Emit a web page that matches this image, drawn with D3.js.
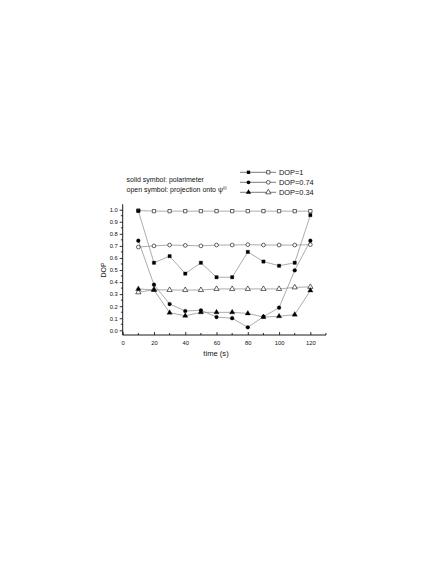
<!DOCTYPE html>
<html><head><meta charset="utf-8">
<script src="https://cdn.jsdelivr.net/npm/d3@7"></script>
<style>body{margin:0;background:#fff}svg{display:block}</style>
</head><body>
<svg id="c" width="436" height="564"></svg>
<script>
const times = [10,20,30,40,50,60,70,80,90,100,110,120];
const dop1Pol  = [0.99,0.56,0.615,0.47,0.56,0.44,0.44,0.65,0.57,0.535,0.56,0.955];
const dop1Proj = [0.993,0.988,0.988,0.988,0.988,0.988,0.988,0.988,0.988,0.988,0.988,0.988];
const dop074Pol  = [0.743,0.378,0.218,0.16,0.166,0.11,0.10,0.025,0.113,0.188,0.497,0.743];
const dop074Proj = [0.69,0.70,0.707,0.704,0.70,0.707,0.707,0.71,0.707,0.707,0.707,0.71];
const dop034Pol  = [0.343,0.335,0.146,0.12,0.149,0.149,0.149,0.14,0.11,0.116,0.13,0.33];
const dop034Proj = [0.315,0.337,0.334,0.334,0.334,0.343,0.343,0.343,0.343,0.343,0.356,0.36];
const legendLabels = ["DOP=1","DOP=0.74","DOP=0.34"];
const xTicks = [0,20,40,60,80,100,120];
const yTicks = [0.0,0.1,0.2,0.3,0.4,0.5,0.6,0.7,0.8,0.9,1.0];

const svg = d3.select("#c");
const font = "'Liberation Sans', Arial, sans-serif";
const x = d3.scaleLinear().domain([0,130]).range([122.7,326]);
const y = d3.scaleLinear().domain([0,1]).range([330.3,209.7]);
const yTop = 1.045, yBot = -0.039;

// axes
const xAxis = d3.axisBottom(x).tickValues(xTicks).tickFormat(d3.format("d")).tickSize(-3).tickPadding(6);
const gx = svg.append("g").attr("transform",`translate(0,${y(yBot)})`).call(xAxis);
gx.select(".domain").attr("d",`M${x(0)},0H${x(130)}`);
const xMinor = d3.range(10,131,20);
gx.selectAll(".minor").data(xMinor).join("line").attr("x1",d=>x(d)).attr("x2",d=>x(d)).attr("y1",0).attr("y2",-2).attr("stroke","#000").attr("stroke-width",0.8);

const yAxis = d3.axisLeft(y).tickValues(yTicks).tickFormat(d3.format(".1f")).tickSize(3).tickPadding(2);
const gy = svg.append("g").attr("transform",`translate(${x(0)},0)`).call(yAxis);
gy.select(".domain").attr("d",`M0,${y(yTop)}V${y(yBot)}`);
const yMinor = d3.range(0.05,1.0,0.1);
gy.selectAll(".minor").data(yMinor).join("line").attr("x1",0).attr("x2",-1.8).attr("y1",d=>y(d)).attr("y2",d=>y(d)).attr("stroke","#000").attr("stroke-width",0.8);

[gx,gy].forEach(g=>{
  g.selectAll("text").attr("font-family",font).attr("font-size",5.8).attr("fill","#111");
  g.selectAll("line").attr("stroke","#000").attr("stroke-width",0.8);
  g.select(".domain").attr("stroke","#000").attr("stroke-width",0.9);
});

svg.append("text").attr("x",216).attr("y",356).attr("text-anchor","middle")
  .attr("font-family",font).attr("font-size",7.6).attr("fill","#111").text("time (s)");
svg.append("text").attr("transform",`translate(106.3,270) rotate(-90)`).attr("text-anchor","middle")
  .attr("font-family",font).attr("font-size",7).attr("fill","#111").text("DOP");

// series
const series = [
  {v:dop1Proj, shape:d3.symbolSquare, fill:false},
  {v:dop074Proj, shape:d3.symbolCircle, fill:false},
  {v:dop034Proj, shape:d3.symbolTriangle, fill:false},
  {v:dop1Pol, shape:d3.symbolSquare, fill:true},
  {v:dop074Pol, shape:d3.symbolCircle, fill:true},
  {v:dop034Pol, shape:d3.symbolTriangle, fill:true}
];
const sizeOf = s => s===d3.symbolCircle?11:(s===d3.symbolTriangle?12:11);
const line = d3.line().x((d,i)=>x(times[i])).y(d=>y(d));
series.forEach(s=>{
  svg.append("path").attr("d",line(s.v)).attr("fill","none").attr("stroke","#888").attr("stroke-width",0.7);
});
series.forEach(s=>{
  svg.append("g").selectAll("path").data(s.v).join("path")
    .attr("transform",(d,i)=>`translate(${x(times[i])},${y(d)})`)
    .attr("d",d3.symbol(s.shape,sizeOf(s.shape)))
    .attr("fill",s.fill?"#000":"#fff").attr("stroke","#000").attr("stroke-width",s.fill?0.3:0.6);
});

// legend
const legShapes = [d3.symbolSquare,d3.symbolCircle,d3.symbolTriangle];
legendLabels.forEach((lab,i)=>{
  const ly = 172.3 + i*10;
  const g = svg.append("g");
  g.append("line").attr("x1",240).attr("x2",276).attr("y1",ly).attr("y2",ly).attr("stroke","#444").attr("stroke-width",0.7);
  g.append("path").attr("transform",`translate(248.5,${ly})`).attr("d",d3.symbol(legShapes[i],sizeOf(legShapes[i]))).attr("fill","#000");
  g.append("path").attr("transform",`translate(268.3,${ly})`).attr("d",d3.symbol(legShapes[i],sizeOf(legShapes[i]))).attr("fill","#fff").attr("stroke","#000").attr("stroke-width",0.6);
  g.append("text").attr("x",279).attr("y",ly+2.6).attr("font-family",font).attr("font-size",7.4).attr("fill","#111").text(lab);
});

svg.append("text").attr("x",126.5).attr("y",181.5).attr("font-family",font).attr("font-size",7).attr("fill","#111").text("solid symbol: polarimeter");
const t2 = svg.append("text").attr("x",126.5).attr("y",192).attr("font-family",font).attr("font-size",7).attr("fill","#111");
t2.append("tspan").text("open symbol: projection onto \u03C8");
t2.append("tspan").attr("dy",-3).attr("font-size",4.3).text("(i)");
</script>
</body></html>
